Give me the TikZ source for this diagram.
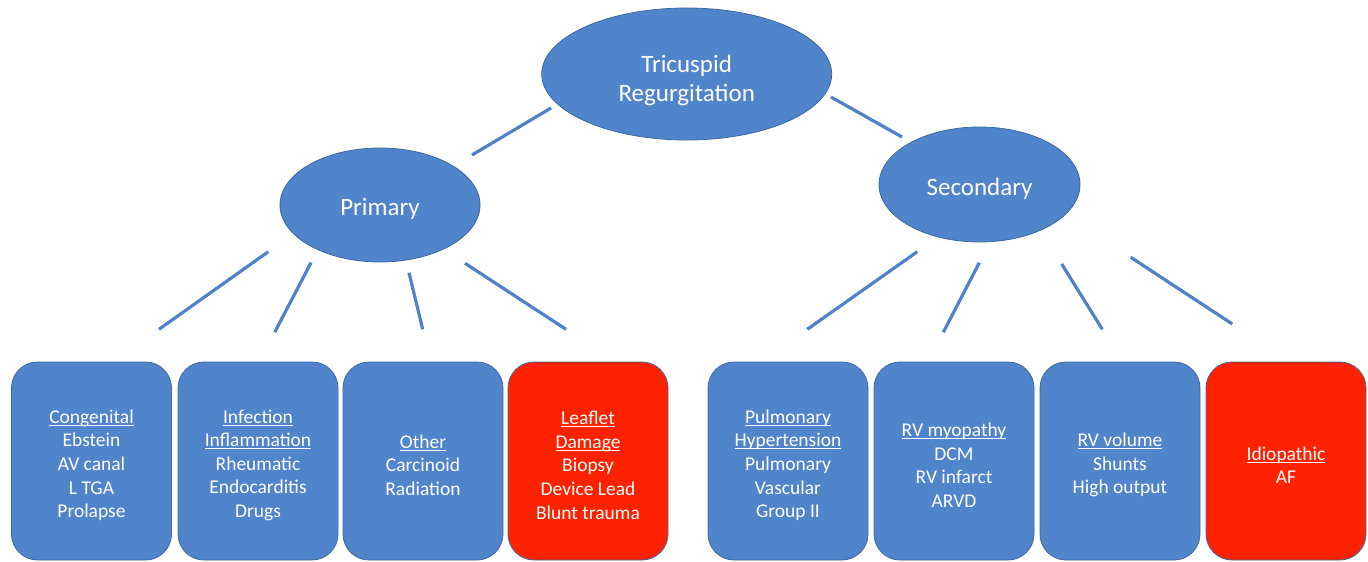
\documentclass[tikz,border=0pt]{standalone}
\usepackage{fontspec}
\setmainfont{Carlito}
\usetikzlibrary{shapes.geometric}
\definecolor{fillblue}{RGB}{80,133,204}
\definecolor{edgeblue}{RGB}{62,104,160}
\definecolor{lineblue}{RGB}{80,130,200}
\definecolor{alertred}{RGB}{255,34,0}
\newcommand\ulx[1]{\setbox0\hbox{#1}\leavevmode\rlap{\rule[-2.6bp]{\wd0}{1.2bp}}\box0}
\newcommand\boxtop{\rule{0pt}{22bp}}
\tikzset{
  oval/.style={ellipse, draw=edgeblue, line width=0.8bp, fill=fillblue, text=white,
    inner sep=0pt, align=center, font=\fontsize{25bp}{29bp}\selectfont},
  causebox/.style={rectangle, rounded corners=26bp, draw=edgeblue, line width=0.8bp,
    fill=fillblue, text=white, minimum width=160bp, minimum height=198bp,
    align=center, font=\fontsize{19.5bp}{23.6bp}\selectfont},
  redbox/.style={causebox, fill=alertred},
  link/.style={draw=lineblue, line width=3.2bp}
}
\begin{document}
\begin{tikzpicture}[x=1bp,y=-1bp]
\useasboundingbox (0,0) rectangle (1368,562);
% ellipses
\node[oval, minimum width=290bp, minimum height=132bp] (tr) at (686.7,74) {\rule{0pt}{30bp}Tricuspid\\Regurgitation};
\node[oval, minimum width=200bp, minimum height=114bp, text height=24bp, text depth=2bp] (pri) at (380,205) {Primary};
\node[oval, minimum width=201bp, minimum height=115bp, text height=25bp, text depth=2bp] (sec) at (979.5,184.5) {Secondary};
% boxes
\node[causebox] (b1) at (91.5,461) {\boxtop\ulx{Congenital}\\Ebstein\\AV canal\\L TGA\\Prolapse};
\node[causebox] (b2) at (258,461) {\boxtop\ulx{Infection}\\\ulx{Inflammation}\\Rheumatic\\Endocarditis\\Drugs};
\node[causebox] (b3) at (423,461) {\boxtop\ulx{Other}\\Carcinoid\\Radiation};
\node[redbox] (b4) at (588,461) {\boxtop\ulx{Leaflet}\\\ulx{Damage}\\Biopsy\\Device Lead\\Blunt trauma};
\node[causebox] (b5) at (788,461) {\boxtop\ulx{Pulmonary}\\\ulx{Hypertension}\\Pulmonary\\Vascular\\Group II};
\node[causebox] (b6) at (954,461) {\boxtop\ulx{RV myopathy}\\DCM\\RV infarct\\ARVD};
\node[causebox] (b7) at (1120,461) {\boxtop\ulx{RV volume}\\Shunts\\High output};
\node[redbox] (b8) at (1286,461) {\boxtop\ulx{Idiopathic}\\AF};
% connector end points
\coordinate (tla) at (551,108);   \coordinate (tlb) at (472,155);
\coordinate (tra) at (831,97);    \coordinate (trb) at (902,137);
\coordinate (p1a) at (268.3,251.7); \coordinate (p1b) at (159,329.3);
\coordinate (p2a) at (311,262.7);   \coordinate (p2b) at (274.7,332.3);
\coordinate (p3a) at (409,272.7);   \coordinate (p3b) at (422.7,329.3);
\coordinate (p4a) at (465,263.3);   \coordinate (p4b) at (566,329.3);
\coordinate (s1a) at (917.3,251.7); \coordinate (s1b) at (807.3,329.3);
\coordinate (s2a) at (979.3,262.7); \coordinate (s2b) at (943.3,332.3);
\coordinate (s3a) at (1061.7,264);  \coordinate (s3b) at (1102.3,329.3);
\coordinate (s4a) at (1130.7,257.3); \coordinate (s4b) at (1232.3,324);
\draw[link] (tla) -- (tlb);
\draw[link] (tra) -- (trb);
\draw[link] (p1a) -- (p1b);
\draw[link] (p2a) -- (p2b);
\draw[link] (p3a) -- (p3b);
\draw[link] (p4a) -- (p4b);
\draw[link] (s1a) -- (s1b);
\draw[link] (s2a) -- (s2b);
\draw[link] (s3a) -- (s3b);
\draw[link] (s4a) -- (s4b);
\end{tikzpicture}
\end{document}
